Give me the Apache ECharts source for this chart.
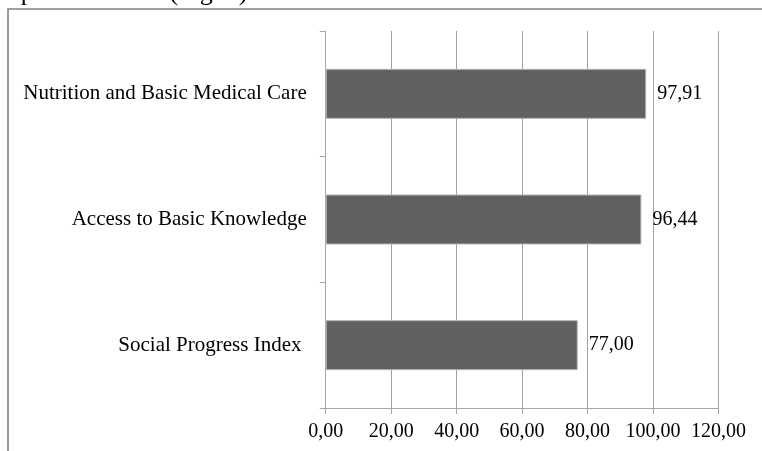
<!DOCTYPE html>
<html>
<head>
<meta charset="utf-8">
<style>
  html, body { margin: 0; padding: 0; background: #fff; }
  #chart { width: 762px; height: 451px; }
</style>
<script src="https://cdn.jsdelivr.net/npm/echarts@6/dist/echarts.min.js"></script>
</head>
<body>
<div id="chart"></div>
<script>
// Categories listed bottom to top, as the category axis draws them
const categories = ['Social Progress Index ', 'Access to Basic Knowledge', 'Nutrition and Basic Medical Care'];
const scores = [77.00, 96.44, 97.91];
const tickValues = [0, 20, 40, 60, 80, 100, 120];

const serif = '"Liberation Serif", "Times New Roman", serif';
const comma = v => Number(v).toFixed(2).replace('.', ',');

const chart = echarts.init(document.getElementById('chart'), null, { renderer: 'canvas' });

chart.setOption({
  backgroundColor: '#ffffff',
  animation: false,
  graphic: [
    {
      // caption line of the surrounding text, clipped at the top edge
      type: 'text',
      x: 254,
      y: 6,
      style: {
        text: 'omponent scores (Fig. 1).',
        font: '26px ' + serif,
        fill: '#000',
        align: 'right',
        verticalAlign: 'bottom'
      },
      z: 10
    },
    {
      // frame around the figure
      type: 'rect',
      shape: { x: 8, y: 9, width: 800, height: 500 },
      style: { fill: 'none', stroke: '#808080', lineWidth: 1.6 },
      z: 10
    }
  ],
  grid: {
    left: 325.7,
    right: 43.5,
    top: 31,
    bottom: 43,
    containLabel: false
  },
  xAxis: {
    type: 'value',
    min: tickValues[0],
    max: tickValues[tickValues.length - 1],
    interval: tickValues[1] - tickValues[0],
    axisLine: { show: true, lineStyle: { color: '#a6a6a6', width: 1 } },
    axisTick: { show: true, length: 6, lineStyle: { color: '#a6a6a6' } },
    splitLine: { show: true, lineStyle: { color: '#a0a0a0', width: 1 } },
    axisLabel: {
      margin: 14,
      formatter: comma,
      fontFamily: serif,
      fontSize: 20,
      color: '#000'
    }
  },
  yAxis: {
    type: 'category',
    data: categories,
    axisLine: { show: true, lineStyle: { color: '#a6a6a6', width: 1 } },
    axisTick: { show: true, length: 6, lineStyle: { color: '#a6a6a6' } },
    splitLine: { show: false },
    axisLabel: {
      margin: 19,
      fontFamily: serif,
      fontSize: 21,
      color: '#000'
    }
  },
  series: [
    {
      type: 'bar',
      data: scores,
      barWidth: 50,
      itemStyle: {
        color: '#616161',
        borderColor: '#b4b4b4',
        borderWidth: 1
      },
      label: {
        show: true,
        position: 'right',
        distance: 11,
        formatter: p => comma(p.value),
        fontFamily: serif,
        fontSize: 20,
        color: '#000'
      }
    }
  ]
});
</script>
</body>
</html>
